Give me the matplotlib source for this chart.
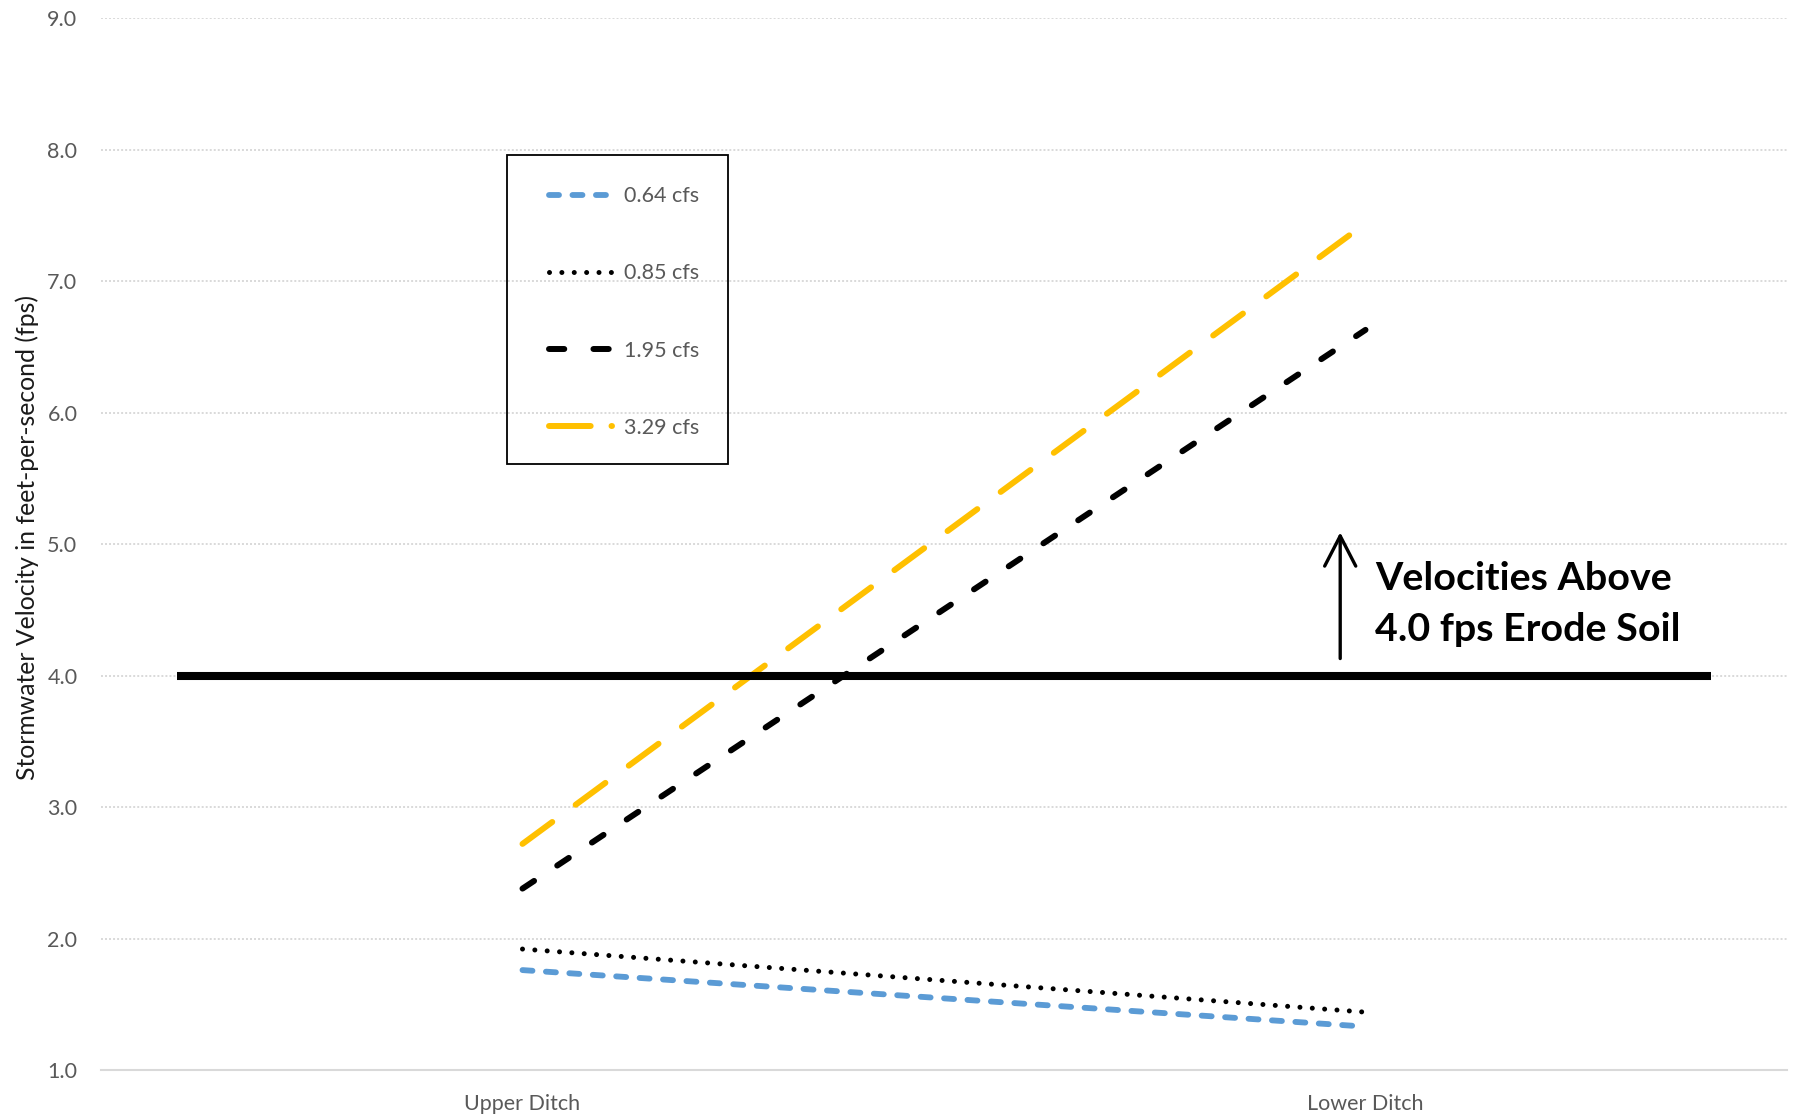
import matplotlib
matplotlib.use("Agg")
import matplotlib.pyplot as plt
from matplotlib.patches import Rectangle
from matplotlib.lines import Line2D

plt.rcParams['font.family'] = ['Lato', 'DejaVu Sans']
plt.rcParams['lines.scale_dashes'] = False

# ---- data ----
categories = ["Upper Ditch", "Lower Ditch"]
series_labels = ["0.64 cfs", "0.85 cfs", "1.95 cfs", "3.29 cfs"]
v_064 = [1.76, 1.33]
v_085 = [1.92, 1.44]
v_195 = [2.38, 6.63]
v_329 = [2.72, 7.44]
threshold = 4.0
threshold_x = [-0.41, 1.41]
arrow_x = 0.97
arrow_y = [4.13, 5.09]
annotation = "Velocities Above\n4.0 fps Erode Soil"
y_ticks = [1, 2, 3, 4, 5, 6, 7, 8, 9]

W, H = 1796, 1117
fig = plt.figure(figsize=(W / 100, H / 100), dpi=100)
ax = fig.add_axes([101 / W, 1 - 1070 / H, (1787 - 101) / W, (1070 - 18.3) / H])

xs = list(range(len(categories)))
styles = [
    dict(color="#5B9BD5", lw=4.2, dashes=(7.2, 9.7), leg_dashes=(7.2, 9.7)),
    dict(color="black", lw=3.6, dashes=(0.01, 8.9), leg_dashes=(0.01, 8.9)),
    dict(color="black", lw=4.3, dashes=(10, 20), leg_dashes=(11, 21)),
    dict(color="#FFC000", lw=4.3, dashes=(26.6, 20.9), leg_dashes=(30, 15)),
]
handles = []
for vals, lab, st in zip([v_064, v_085, v_195, v_329], series_labels, styles):
    ax.plot(xs, vals, color=st["color"], lw=st["lw"], dashes=st["dashes"],
            dash_capstyle="round", solid_capstyle="round", zorder=3)
    handles.append(Line2D([], [], color=st["color"], lw=st["lw"],
                          dashes=st["leg_dashes"], dash_capstyle="round", label=lab))

# threshold line
ax.plot(threshold_x, [threshold, threshold], color="black", lw=5.8,
        solid_capstyle="butt", zorder=4)

# arrow and annotation
ax.annotate("", xy=(arrow_x, arrow_y[1]), xytext=(arrow_x, arrow_y[0]),
            arrowprops=dict(arrowstyle="->,head_length=0.62,head_width=0.32",
                            lw=2.4, color="black", mutation_scale=35,
                            shrinkA=0, shrinkB=0), zorder=5)
ax.text(1.011, 4.545, annotation, fontsize=28.4, fontweight="bold", ha="left",
        va="center", linespacing=1.53, color="black")

ax.set_xlim(-0.5, 1.5)
ax.set_ylim(1, 9)
ax.set_yticks(y_ticks)
ax.set_yticklabels([f"{t:.1f}" for t in y_ticks])
ax.set_xticks(xs)
ax.set_xticklabels(categories)
ax.tick_params(axis="both", length=0, labelsize=15.5, labelcolor="#595959")
ax.tick_params(axis="y", pad=17)
ax.tick_params(axis="x", pad=17)

for s in ["top", "right", "left"]:
    ax.spines[s].set_visible(False)
ax.spines["bottom"].set_color("#D9D9D9")
ax.spines["bottom"].set_linewidth(1.5)

ax.yaxis.grid(True, color="#D9D9D9", lw=1.4, dashes=(1.4, 1.5))
ax.set_axisbelow(True)

fig.text(27 / W, 1 - 538 / H, "Stormwater Velocity in feet-per-second (fps)",
         fontsize=17.8, color="#1a1a1a", rotation=90, ha="center", va="center")

# legend box
fig.patches.append(Rectangle((507 / W, 1 - 464 / H), (728 - 507) / W, (464 - 155) / H,
                             transform=fig.transFigure, fill=False, ec="black",
                             lw=1.3, zorder=6))
leg = fig.legend(handles=handles, loc="center left",
                 bbox_to_anchor=(549 / W, 1 - 312 / H), frameon=False,
                 fontsize=15.5, handlelength=2.93, handletextpad=0.56,
                 labelspacing=2.65, borderpad=0, borderaxespad=0)
for t in leg.get_texts():
    t.set_color("#595959")

fig.savefig("out.png", dpi=100, facecolor="white")
